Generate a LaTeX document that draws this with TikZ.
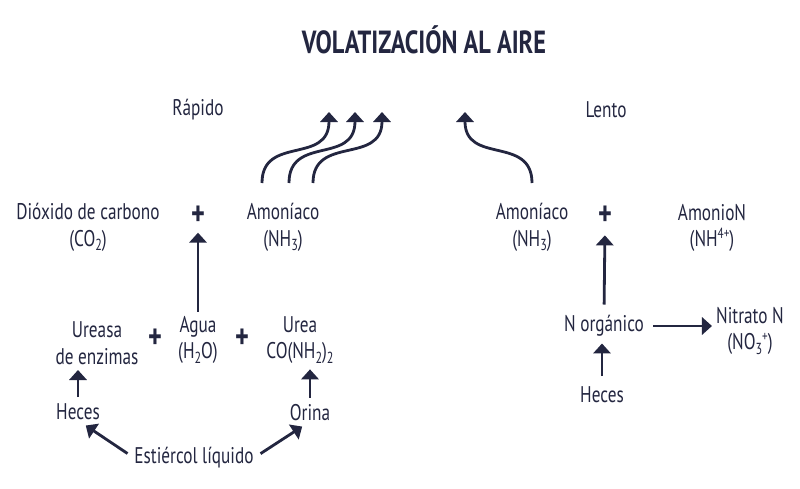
\documentclass[tikz,border=0pt]{standalone}
\usepackage{fontspec}
\setmainfont[FakeStretch=0.76]{PT Sans}
\usetikzlibrary{arrows.meta}
\definecolor{ink}{RGB}{35,38,64}
\newcommand{\lsub}[1]{\raisebox{-0.4ex}{\fontsize{12}{12}\selectfont #1}}
\newcommand{\lsup}[1]{\raisebox{0.75ex}{\fontsize{11}{11}\selectfont #1}}
\begin{document}
\begin{tikzpicture}[x=0.75pt,y=-0.75pt,
  txt/.style={text=ink,align=center,font=\fontsize{17}{20}\selectfont,inner sep=0pt},
  ttl/.style={text=ink,font=\fontsize{24}{26}\selectfont\bfseries,inner sep=0pt},
  plus/.style={text=ink,font=\fontsize{26}{26}\selectfont\bfseries,inner sep=0pt},
  arr/.style={draw=ink,line width=2.1pt,-{Triangle[width=13pt,length=7.5pt]}}]
\useasboundingbox[fill=white] (0,0) rectangle (800,489);
\node[ttl] (title) at (424,40) {VOLATIZACIÓN AL AIRE};
\node[txt] (rapido) at (198,110) {Rápido};
\node[txt] (lento) at (606,110) {Lento};
% left
\node[txt] (co2) at (88,227) {Dióxido de carbono\\(CO\lsub{2})};
\node[plus] (p1) at (198,216) {+};
\node[txt] (amL) at (283,227) {Amoníaco\\(NH\lsub{3})};
\node[txt] (urea) at (97,343) {Ureasa\\de enzimas};
\node[plus] (p2) at (155,339) {+};
\node[txt] (agua) at (198,340) {Agua\\(H\lsub{2}O)};
\node[plus] (p3) at (242,339) {+};
\node[txt] (ureaN) at (300,340) {Urea\\CO(NH\lsub{2})\lsub{2}};
\node[txt] (hecesL) at (78,412) {Heces};
\node[txt] (orina) at (310,413) {Orina};
\node[txt] (est) at (194,458) {Estiércol líquido};
% right
\node[txt] (amR) at (532,227) {Amoníaco\\(NH\lsub{3})};
\node[plus] (p4) at (605,216) {+};
\node[txt] (amonio) at (712,228) {AmonioN\\(NH\lsup{4+})};
\node[txt] (norg) at (604,326) {N orgánico};
\node[txt] (nitr) at (750,331) {Nitrato N\\(NO\lsub{3}\lsup{+})};
\node[txt] (hecesR) at (602,395) {Heces};
% coordinates for volatilisation curves
\coordinate (s1) at (262,183); \coordinate (t1) at (329,112);
\coordinate (s2) at (289,183); \coordinate (t2) at (355,112);
\coordinate (s3) at (313,183); \coordinate (t3) at (382,112);
\coordinate (s4) at (532,183); \coordinate (t4) at (465,112);
\draw[arr] (s1) .. controls (262,135) and (329,165) .. (t1);
\draw[arr] (s2) .. controls (289,135) and (355,165) .. (t2);
\draw[arr] (s3) .. controls (313,135) and (382,165) .. (t3);
\draw[arr] (s4) .. controls (532,135) and (465,165) .. (t4);
% straight arrows
\draw[arr,shorten <=3pt,shorten >=5pt] (agua.north) -- (p1.south);
\draw[arr,shorten <=5pt,shorten >=4pt] (hecesL.north) -- (hecesL.north |- urea.south);
\draw[arr,shorten <=5pt,shorten >=4pt] (orina.north) -- (orina.north |- ureaN.south);
\draw[arr,shorten <=6pt,shorten >=7pt] (est.west) -- (hecesL.south);
\draw[arr,shorten <=6pt,shorten >=7pt] (est.east) -- (orina.south);
\draw[arr,shorten <=8pt,shorten >=7pt] (norg.north) -- (p4.south);
\draw[arr,shorten <=8pt,shorten >=5pt] (hecesR.north) -- (hecesR.north |- norg.south);
\draw[arr,shorten <=7pt,shorten >=3pt] (norg.east) -- (norg.east -| nitr.west);
\end{tikzpicture}
\end{document}
